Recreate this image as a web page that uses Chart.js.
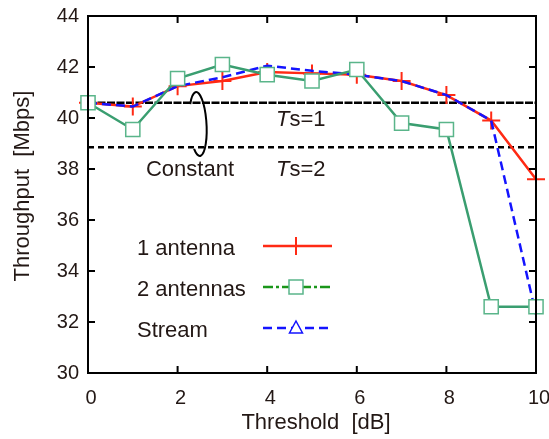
<!DOCTYPE html>
<html>
<head>
<meta charset="utf-8">
<script src="https://cdn.jsdelivr.net/npm/chart.js@4.4.0/dist/chart.umd.min.js"></script>
<style>
  html, body { margin: 0; padding: 0; background: #ffffff; }
  #wrap { width: 549px; height: 439px; }
</style>
</head>
<body>
<div id="wrap"><canvas id="c" width="549" height="439"></canvas></div>
<script>
// ---- data ----
const thresholds = [0, 1, 2, 3, 4, 5, 6, 7, 8, 9, 10];
const oneAntenna = [40.6, 40.45, 41.25, 41.45, 41.8, 41.75, 41.7, 41.45, 40.9, 39.9, 37.6];
const twoAntennas = [40.6, 39.55, 41.55, 42.1, 41.7, 41.45, 41.9, 39.8, 39.55, 32.6, 32.6];
const stream = [40.6, 40.45, 41.25, 41.6, 42.05, 41.85, 41.7, 41.45, 40.9, 39.9, 32.3];
const tsLevels = [40.6, 38.85];
const tsLabels = ['1', '2'];
const seriesNames = ['1 antenna', '2 antennas', 'Stream'];
const xTicks = [0, 2, 4, 6, 8, 10];
const yTicks = [30, 32, 34, 36, 38, 40, 42, 44];
const xTitle = 'Threshold  [dB]';
const yTitle = 'Throughput  [Mbps]';
const annotationText = 'Constant';

const TEXT = '#231815';
const FONT = '"Liberation Sans", Arial, sans-serif';
const RED = '#ff2a14';
const GREEN = '#3a9e70';
const GREEN_MARK = '#5ab58a';
const GREEN_LEG = '#1a961a';
const BLUE = '#1414ff';

const pts = arr => thresholds.map((x, i) => ({x: x, y: arr[i]}));
const hline = v => [{x: thresholds[0], y: v}, {x: thresholds[thresholds.length - 1], y: v}];

const decor = {
  id: 'decor',
  afterDraw(chart) {
    const ctx = chart.ctx;
    const xs = chart.scales.x, ys = chart.scales.y;
    const a = chart.chartArea;
    ctx.save();
    // frame
    ctx.strokeStyle = '#000';
    ctx.lineWidth = 2;
    ctx.strokeRect(a.left, a.top, a.right - a.left, a.bottom - a.top);
    // inward ticks
    const tl = 7;
    ctx.beginPath();
    xTicks.forEach(v => {
      if (v === xs.min || v === xs.max) return;
      const px = xs.getPixelForValue(v);
      ctx.moveTo(px, a.bottom); ctx.lineTo(px, a.bottom - tl);
      ctx.moveTo(px, a.top); ctx.lineTo(px, a.top + tl);
    });
    yTicks.forEach(v => {
      if (v === ys.min || v === ys.max) return;
      const py = ys.getPixelForValue(v);
      ctx.moveTo(a.left, py); ctx.lineTo(a.left + tl, py);
      ctx.moveTo(a.right, py); ctx.lineTo(a.right - tl, py);
    });
    ctx.stroke();

    // axis titles
    ctx.fillStyle = TEXT;
    ctx.font = '22px ' + FONT;
    ctx.textAlign = 'center';
    ctx.textBaseline = 'middle';
    ctx.fillText(xTitle, 316, 423);
    ctx.save();
    ctx.translate(23, 186);
    ctx.rotate(-Math.PI / 2);
    ctx.fillText(yTitle, 0, 0);
    ctx.restore();

    // Ts labels
    const tsX = 276;
    tsLevels.forEach((v, i) => {
      const py = ys.getPixelForValue(v) + (i === 0 ? 17 : 23);
      ctx.textAlign = 'left';
      ctx.font = 'italic 22px ' + FONT;
      ctx.fillText('T', tsX, py);
      const w = ctx.measureText('T').width;
      ctx.font = '22px ' + FONT;
      ctx.fillText('s=' + tsLabels[i], tsX + w, py);
    });

    // Constant annotation
    ctx.textAlign = 'center';
    ctx.fillText(annotationText, 190, 170);
    ctx.beginPath();
    ctx.strokeStyle = '#000';
    ctx.lineWidth = 2;
    ctx.ellipse(198, 124, 8.5, 32, -0.06, -0.78 * Math.PI, 0.72 * Math.PI);
    ctx.stroke();

    // legend
    const lx0 = 263, lx1 = 332, mx = 296, tx = 137;
    const rows = [246, 287, 328];
    ctx.font = '22px ' + FONT;
    ctx.textAlign = 'left';
    ctx.fillStyle = TEXT;
    rows.forEach((y, i) => ctx.fillText(seriesNames[i], tx, y + 3));
    // red
    ctx.strokeStyle = RED; ctx.lineWidth = 2.5; ctx.setLineDash([]);
    ctx.beginPath(); ctx.moveTo(lx0, rows[0]); ctx.lineTo(lx1, rows[0]); ctx.stroke();
    ctx.lineWidth = 2;
    ctx.beginPath(); ctx.moveTo(mx - 9, rows[0]); ctx.lineTo(mx + 9, rows[0]);
    ctx.moveTo(mx, rows[0] - 9); ctx.lineTo(mx, rows[0] + 9); ctx.stroke();
    // green
    ctx.strokeStyle = GREEN_LEG; ctx.lineWidth = 2.5; ctx.setLineDash([10, 3, 3, 3]);
    ctx.beginPath(); ctx.moveTo(lx0, rows[1]); ctx.lineTo(lx1, rows[1]); ctx.stroke();
    ctx.setLineDash([]);
    ctx.fillStyle = '#fff'; ctx.strokeStyle = GREEN_MARK; ctx.lineWidth = 1.5;
    ctx.fillRect(mx - 7, rows[1] - 7, 14, 14);
    ctx.strokeRect(mx - 7, rows[1] - 7, 14, 14);
    // blue
    ctx.strokeStyle = BLUE; ctx.lineWidth = 2.5; ctx.setLineDash([9, 5]);
    ctx.beginPath(); ctx.moveTo(lx0, rows[2]); ctx.lineTo(lx1, rows[2]); ctx.stroke();
    ctx.setLineDash([]);
    ctx.fillStyle = '#fff'; ctx.lineWidth = 1.5;
    ctx.beginPath(); ctx.moveTo(mx, rows[2] - 7); ctx.lineTo(mx + 6.5, rows[2] + 5); ctx.lineTo(mx - 6.5, rows[2] + 5); ctx.closePath();
    ctx.fill(); ctx.stroke();
    ctx.restore();
  }
};

new Chart(document.getElementById('c'), {
  type: 'line',
  data: {
    datasets: [
      { label: seriesNames[1], data: pts(twoAntennas), borderColor: GREEN, borderWidth: 2.5,
        pointStyle: 'rect', pointRadius: 10, pointBorderColor: GREEN_MARK, pointBackgroundColor: '#ffffff',
        pointBorderWidth: 1.5, order: 0, clip: false },
      { label: seriesNames[2], data: pts(stream), borderColor: BLUE, borderWidth: 2.5, borderDash: [9, 5],
        pointRadius: 0, order: 1, clip: false },
      { label: seriesNames[0], data: pts(oneAntenna), borderColor: RED, borderWidth: 2.5,
        pointStyle: 'cross', pointRadius: 9, pointBorderColor: RED, pointBorderWidth: 2, order: 2, clip: false },
      { label: 'Ts=1', data: hline(tsLevels[0]), borderColor: '#000', borderWidth: 2.5, borderDash: [8, 1.5],
        pointRadius: 0, order: 3 },
      { label: 'Ts=2', data: hline(tsLevels[1]), borderColor: '#000', borderWidth: 2.5, borderDash: [6, 4],
        pointRadius: 0, order: 3 }
    ]
  },
  options: {
    responsive: false,
    animation: false,
    events: [],
    layout: { padding: { top: 16, right: 13, left: 0, bottom: 0 }, autoPadding: false },
    plugins: { legend: { display: false }, tooltip: { enabled: false } },
    elements: { line: { tension: 0 } },
    scales: {
      x: {
        type: 'linear', min: 0, max: 10,
        afterBuildTicks: s => { s.ticks = xTicks.map(v => ({value: v})); },
        afterFit: s => { s.height = 66; s.paddingLeft = 0; s.paddingRight = 0; },
        grid: { display: false, drawTicks: false },
        border: { display: false },
        ticks: { color: TEXT, font: { size: 20, family: FONT }, padding: 13, labelOffset: 3, maxRotation: 0, autoSkip: false }
      },
      y: {
        type: 'linear', min: 30, max: 44,
        afterBuildTicks: s => { s.ticks = yTicks.map(v => ({value: v})); },
        afterFit: s => { s.width = 88; s.paddingTop = 0; s.paddingBottom = 0; },
        grid: { display: false, drawTicks: false },
        border: { display: false },
        ticks: { color: TEXT, font: { size: 20, family: FONT }, padding: 9, autoSkip: false }
      }
    }
  },
  plugins: [decor]
});
</script>
</body>
</html>
